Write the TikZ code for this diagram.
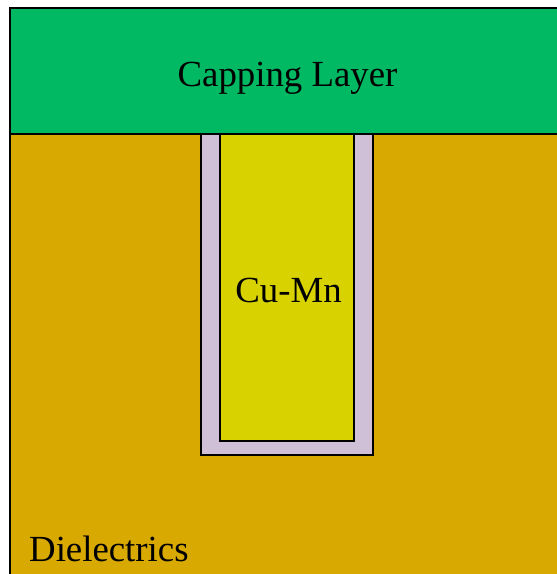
\documentclass[tikz,border=0pt]{standalone}
\usepackage{fontspec}
\setmainfont{Liberation Serif}
\definecolor{capgreen}{RGB}{0,185,98}
\definecolor{dielec}{RGB}{216,169,0}
\definecolor{cumn}{RGB}{216,210,0}
\definecolor{liner}{RGB}{207,192,216}
\tikzset{
  layer/.style={draw=black, line width=2pt},
  lbl/.style={anchor=base, inner sep=0pt, font=\fontsize{36.8}{40}\selectfont}
}
\begin{document}
\begin{tikzpicture}[x=1pt,y=-1pt]
\useasboundingbox (0,0) rectangle (557,574);
\fill[white] (0,0) rectangle (557,574);
% dielectric
\path[layer, fill=dielec] (10,134) -- (10,580) -- (565,580) -- (565,134) -- cycle;
% capping layer
\path[layer, fill=capgreen] (10,8) rectangle (565,134);
% liner
\path[layer, fill=liner] (201,134) -- (201,455) -- (373,455) -- (373,134);
% Cu-Mn
\path[layer, fill=cumn] (220,134) -- (220,441) -- (354,441) -- (354,134);
% redraw capping bottom line
\draw[line width=2pt] (10,134) -- (565,134);
\node[lbl] (cap) at (287.5,86) {Capping Layer};
\node[lbl] (cu) at (288.5,302) {Cu-Mn};
\node[lbl, anchor=base west] (di) at (29,561) {Dielectrics};
\end{tikzpicture}
\end{document}
